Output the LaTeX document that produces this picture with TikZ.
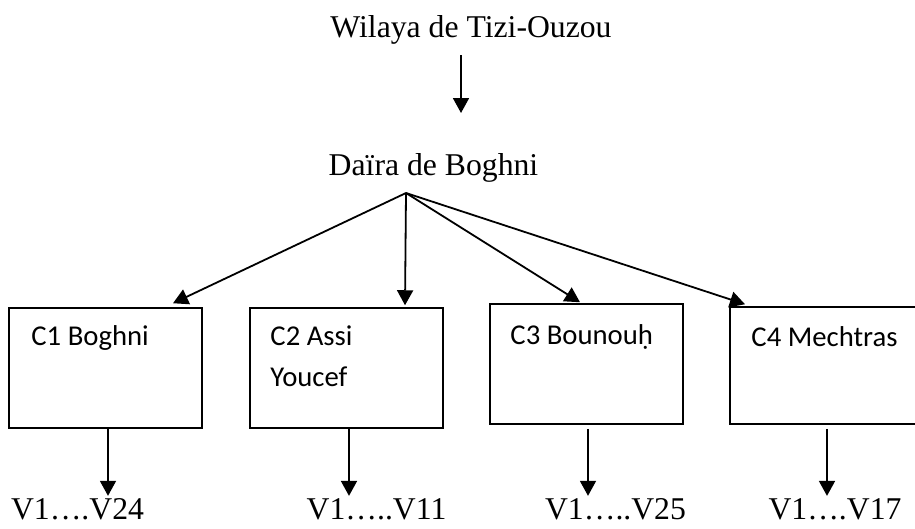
\documentclass[tikz,border=0pt]{standalone}
\usepackage{fontspec}
\setmainfont{Liberation Serif}
\newfontfamily\calibri{Carlito}
\usetikzlibrary{arrows.meta}

\begin{document}
\begin{tikzpicture}[x = 1pt, y = -1pt,
  title/.style={font=\fontsize{31.7}{38}\selectfont, inner sep=0, anchor=base},
  commune/.style={draw=black, line width=1.5pt, minimum width=193pt, minimum height=120pt, inner sep=0},
  cname/.style={font=\calibri\fontsize{28.7}{41}\selectfont, align=left, inner sep=0, anchor=base west},
  village/.style={font=\fontsize{31.7}{38}\selectfont, inner sep=2pt, anchor=base},
  arr/.style={line width=1.8pt, -{Triangle[length=15pt, width=16pt]}}]
\useasboundingbox (0,0) rectangle (915,528);
% Wilaya -> daira
\node[title] (wilaya) at (471,37) {Wilaya de Tizi-Ouzou};
\node[title] (daira) at (433.5,175) {Daïra de Boghni};
\draw[arr] ([xshift=-10pt, yshift=-18pt]wilaya.base) -- ([xshift=27.5pt, yshift=62pt]daira.base);
\coordinate (fan) at ([xshift=-27.5pt, yshift=-18pt]daira.base);
% Communes
\node[commune] (c1) at (105.5,368) {};
\node[commune] (c2) at (346.5,368) {};
\node[commune] (c3) at (586.5,364) {};
\node[commune, minimum height=117pt] (c4) at (826.5,365.5) {};
\node[cname] (c1name) at ([xshift=23pt, yshift=-38pt]c1.north west) {C1 Boghni};
% base of a two-line name is its last line
\node[cname] (c2name) at ([xshift=21pt, yshift=-79pt]c2.north west) {C2 Assi\\Youcef};
\node[cname] (c3name) at ([xshift=21pt, yshift=-41pt]c3.north west) {C3 Bounouḥ};
\node[cname] (c4name) at ([xshift=22pt, yshift=-40pt]c4.north west) {C4 Mechtras};
% Daira -> communes
\draw[arr] (fan) -- ([xshift=67.5pt, yshift=4pt]c1.north);
\draw[arr] (fan) -- ([xshift=58.5pt, yshift=2pt]c2.north);
\draw[arr] (fan) -- ([xshift=-6.5pt, yshift=1pt]c3.north);
\draw[arr] (fan) -- ([xshift=-81.5pt, yshift=2pt]c4.north);
% Villages
\node[village] (v1) at (77.5,519) {V1….V24};
\node[village] (v2) at (376.5,519) {V1…..V11};
\node[village] (v3) at (615.5,519) {V1…..V25};
\node[village] (v4) at (835,519) {V1….V17};
\draw[arr] ([xshift=2.5pt]c1.south) -- ([xshift=2.5pt]c1.south |- v1.north);
\draw[arr] ([xshift=2.5pt]c2.south) -- ([xshift=2.5pt]c2.south |- v2.north);
\draw[arr, shorten <=4pt] ([xshift=1.5pt]c3.south) -- ([xshift=1.5pt]c3.south |- v3.north);
\draw[arr, shorten <=4pt] ([xshift=0.5pt]c4.south) -- ([xshift=0.5pt]c4.south |- v4.north);
\end{tikzpicture}
\end{document}
